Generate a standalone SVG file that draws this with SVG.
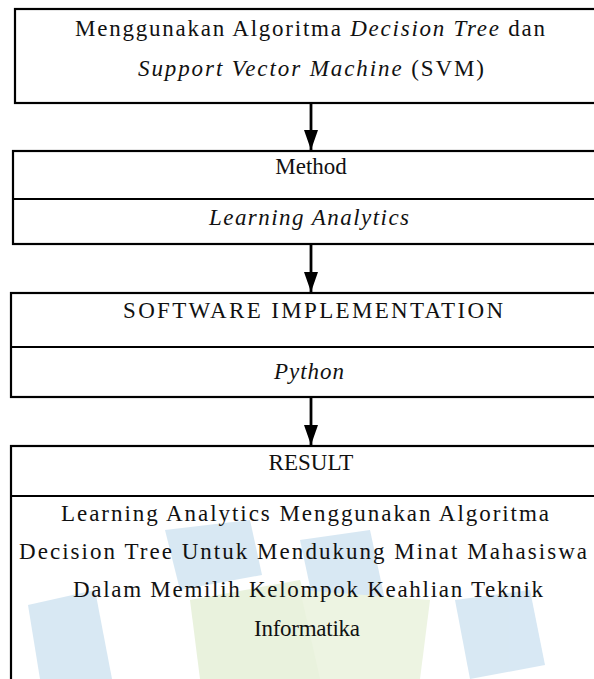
<svg xmlns="http://www.w3.org/2000/svg" width="594" height="679" viewBox="0 0 594 679">
<style>
.box{fill:none;stroke:#000;stroke-width:2.2}
.t{font-family:"Liberation Serif","Times New Roman",serif;font-size:23px;fill:#111;text-anchor:middle}
.i{font-style:italic}
.c{stroke:#000;stroke-width:2.8;fill:none}
</style>
<defs>
<marker id="ah" viewBox="0 0 20 14" refX="20" refY="7" markerWidth="20" markerHeight="14" markerUnits="userSpaceOnUse" orient="auto">
<path d="M0,0 L20,7 L0,14 Z" fill="#000"/>
</marker>
</defs>
<g id="watermark" opacity="0.45">
<polygon points="28,605 95,590 112,679 40,679" fill="#a9cde6"/>
<polygon points="165,530 250,520 262,575 180,590" fill="#a9cde6"/>
<polygon points="300,540 370,530 385,600 315,610" fill="#a9cde6"/>
<polygon points="455,600 530,590 545,665 470,679" fill="#a9cde6"/>
<polygon points="190,600 300,580 330,679 200,679" fill="#cfe3b4"/>
<polygon points="300,590 430,600 420,679 320,679" fill="#d8e8bf"/>
</g>
<g id="n1">
<rect class="box" x="15" y="9" width="600" height="94"/>
<text class="t" x="310" y="36" textLength="470" lengthAdjust="spacing">Menggunakan Algoritma <tspan class="i">Decision Tree</tspan> dan</text>
<text class="t" x="311" y="76" textLength="346" lengthAdjust="spacing"><tspan class="i">Support Vector Machine</tspan> (SVM)</text>
</g>
<g id="n2">
<rect class="box" x="13" y="151" width="600" height="93"/>
<line class="box" x1="13" y1="199" x2="613" y2="199"/>
<text class="t" x="311" y="174">Method</text>
<text class="t i" x="309" y="225" textLength="200" lengthAdjust="spacing">Learning Analytics</text>
</g>
<g id="n3">
<rect class="box" x="11" y="293" width="600" height="104"/>
<line class="box" x1="11" y1="347" x2="611" y2="347"/>
<text class="t" x="313" y="318" textLength="380" lengthAdjust="spacing">SOFTWARE  IMPLEMENTATION</text>
<text class="t i" x="309" y="379" textLength="70" lengthAdjust="spacing">Python</text>
</g>
<g id="n4">
<rect class="box" x="11" y="446" width="600" height="260"/>
<line class="box" x1="11" y1="496" x2="611" y2="496"/>
<text class="t" x="311" y="470">RESULT</text>
<text class="t" x="305" y="521" textLength="488" lengthAdjust="spacing">Learning Analytics Menggunakan Algoritma</text>
<text class="t" x="303" y="559" textLength="568" lengthAdjust="spacing">Decision  Tree Untuk Mendukung Minat Mahasiswa</text>
<text class="t" x="308" y="597" textLength="470" lengthAdjust="spacing">Dalam Memilih Kelompok Keahlian Teknik</text>
<text class="t" x="307" y="636" textLength="106" lengthAdjust="spacing">Informatika</text>
</g>
<g id="connectors">
<line class="c" x1="311" y1="104" x2="311" y2="150" marker-end="url(#ah)"/>
<line class="c" x1="311" y1="245" x2="311" y2="292" marker-end="url(#ah)"/>
<line class="c" x1="311" y1="398" x2="311" y2="445" marker-end="url(#ah)"/>
</g>
</svg>
